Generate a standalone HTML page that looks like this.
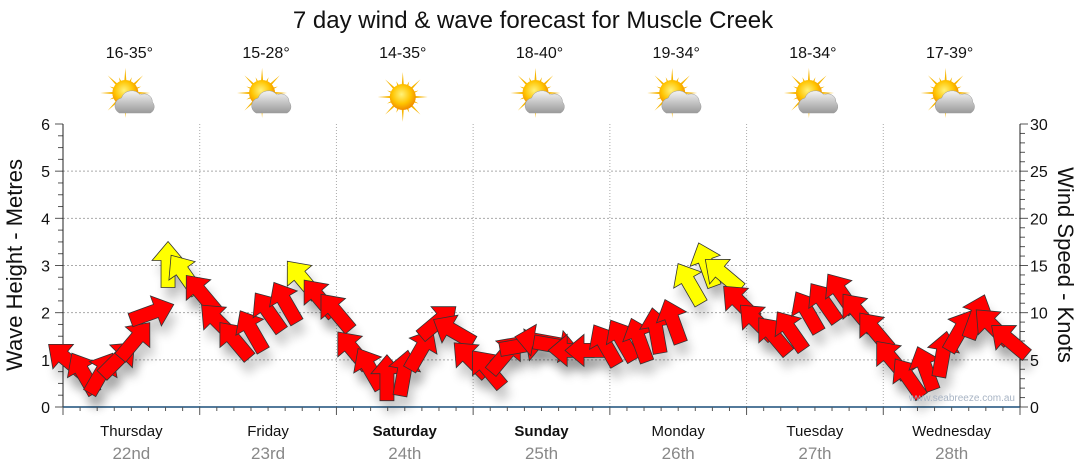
<!DOCTYPE html>
<html><head><meta charset="utf-8"><style>
body{margin:0;background:#fff;}
svg{display:block;font-family:"Liberation Sans","DejaVu Sans",sans-serif;}
</style></head><body>
<svg id="c" width="1080" height="475" viewBox="0 0 1080 475">
<defs>
<filter id="sh" x="-50%" y="-50%" width="200%" height="200%"><feGaussianBlur stdDeviation="5"/></filter>
<radialGradient id="sun" cx="0.45" cy="0.4" r="0.6"><stop offset="0" stop-color="#fff27a"/><stop offset="0.6" stop-color="#ffc400"/><stop offset="1" stop-color="#f08a00"/></radialGradient>
<linearGradient id="cl" x1="0" y1="0" x2="0" y2="1"><stop offset="0" stop-color="#f4f4f4"/><stop offset="1" stop-color="#9a9a9a"/></linearGradient>
</defs>
<text x="533" y="28" font-size="24" text-anchor="middle" fill="#111">7 day wind &amp; wave forecast for Muscle Creek</text>
<g id="grid"></g><g id="axes"></g><g id="top"></g><g id="shadows"></g><g id="arrows"></g>
<text x="1015" y="401" font-size="10" text-anchor="end" fill="#a8b4c4">www.seabreeze.com.au</text>
<text transform="translate(22,265) rotate(-90)" font-size="22" text-anchor="middle" fill="#111">Wave Height - Metres</text>
<text transform="translate(1058,265) rotate(90)" font-size="22" text-anchor="middle" fill="#111">Wind Speed - Knots</text>
</svg>
<script>
const days=["Thursday","Friday","Saturday","Sunday","Monday","Tuesday","Wednesday"];
const dates=["22nd","23rd","24th","25th","26th","27th","28th"];
const boldDays=[false,false,true,true,false,false,false];
const temps=["16-35°","15-28°","14-35°","18-40°","19-34°","18-34°","17-39°"];
const sunny=[false,false,true,false,false,false,false];
const leftTicks=[0,1,2,3,4,5,6];
const rightTicks=[0,5,10,15,20,25,30];
const windSpeed=[5,3.5,3.5,5,7,10,15,14, 12,9,7,8,10,11,13.5,11.5, 10,6,4,3,3.5,6,9,8, 5,4,5.5,6.5,7,6.5,6,6, 6.5,7,7,8,9,13,15,14, 11,9,7.5,8,10,11,12,10, 8,5,3,4,5.5,8,9.5,8.5,7];
const windDir=[-50,-30,30,45,40,70,0,-35, -40,-45,-40,-30,-35,-30,-40,-40, -40,-40,-30,0,10,30,50,-60, -45,-40,40,80,-80,100,-90,-90, -30,-30,-20,-10,-20,-30,-20,-50, -45,-45,-40,-35,-30,-35,-35,-40, -40,-40,-35,-20,10,30,20,-45,-50];
const X0=63,X1=1020,Y0=407,Y1=124;
const ns="http://www.w3.org/2000/svg";
function el(t,a,p){const e=document.createElementNS(ns,t);for(const k in a)e.setAttribute(k,a[k]);p.appendChild(e);return e;}
const dayW=(X1-X0)/7;
const xDay=d=>X0+dayW*d;
const xIdx=i=>X0+(i/(windSpeed.length-1))*(X1-X0-14)+4;
const yM=v=>Y0-(v/6)*(Y0-Y1);
const yK=v=>Y0-(v/30)*(Y0-Y1);
const grid=document.getElementById('grid'),axes=document.getElementById('axes'),top_=document.getElementById('top');
leftTicks.forEach(v=>{
 if(v>0&&v<6){const g=el('line',{x1:X0,x2:X1,y1:yM(v),y2:yM(v),stroke:'#aaa','stroke-dasharray':'2,2'},grid);
 
 }
 const t=el('text',{x:50,y:yM(v)+6,'font-size':16,'text-anchor':'end',fill:'#111'},axes);t.textContent=v;
 
 
});
rightTicks.forEach(v=>{
 const t=el('text',{x:1030,y:yK(v)+6,'font-size':16,fill:'#111'},axes);t.textContent=v;
 
 
});
for(let i=0;i<=24;i++){const y=Y0-i*(Y0-Y1)/24;el('line',{x1:X0-(i%4?5:8),x2:X0,y1:y,y2:y,stroke:'#555'},axes);}
for(let i=0;i<=30;i++){const y=yK(i);el('line',{x1:X1,x2:X1+(i%5?5:8),y1:y,y2:y,stroke:'#555'},axes);}
el('line',{x1:X0,x2:X0,y1:Y1,y2:Y0,stroke:'#222'},axes);
el('line',{x1:X1,x2:X1,y1:Y1,y2:Y0,stroke:'#222'},axes);
el('line',{x1:X0,x2:X1,y1:Y0,y2:Y0,stroke:'#1a4f7a','stroke-width':1.5},axes);
for(let i=0;i<=56;i++){const x=X0+i*dayW/8;el('line',{x1:x,x2:x,y1:Y0,y2:Y0+(i%8?4:8),stroke:'#555'},axes);}
days.forEach((d,i)=>{
 if(i>0){const g=el('line',{x1:xDay(i),x2:xDay(i),y1:Y1,y2:Y0,stroke:'#aaa','stroke-dasharray':'1,2'},grid);
 
 }
 const cx=xDay(i)+dayW/2;
 const t=el('text',{x:cx,y:436,'font-size':15,'text-anchor':'middle',fill:'#111','font-weight':boldDays[i]?'bold':'normal'},axes);t.textContent=d;
 
 
 const t2=el('text',{x:cx,y:459,'font-size':17,'text-anchor':'middle',fill:'#888'},axes);t2.textContent=dates[i];
 
 
 const t3=el('text',{x:cx-2,y:58,'font-size':16,'text-anchor':'middle',fill:'#111'},top_);t3.textContent=temps[i];
 
 
 const ic=el('g',{transform:`translate(${cx-2},97)`},top_);
 
 
 const sx=sunny[i]?0:-4, sy=sunny[i]?0:-4;
 for(let k=0;k<16;k++){const a=k*Math.PI/8,L=k%2?17:25;el('polygon',{points:`${sx+Math.cos(a-0.12)*10},${sy+Math.sin(a-0.12)*10} ${sx+Math.cos(a)*L},${sy+Math.sin(a)*L} ${sx+Math.cos(a+0.12)*10},${sy+Math.sin(a+0.12)*10}`,fill:'#f7b500'},ic);}
 el('circle',{cx:sx,cy:sy,r:13,fill:'url(#sun)'},ic);
 if(!sunny[i]){el('path',{d:'M-10,16 a8,8 0 0 1 2,-15 a11,11 0 0 1 19,-3 a8,8 0 0 1 12,7 a7,7 0 0 1 -2,11 z',fill:'url(#cl)',stroke:'#999','stroke-width':0.5},ic);}
});
const ar=document.getElementById('arrows'),sh=document.getElementById('shadows');
const shape="0,-24 -16,-5 -7,-5 -7,22 7,22 7,-5 16,-5";
windSpeed.forEach((v,i)=>{
 const x=xIdx(i),y=yK(v),r=windDir[i];
 const s=el('polygon',{points:shape,fill:'#000',opacity:0.2,filter:'url(#sh)',transform:`translate(${x+4},${y+12}) rotate(${r})`},sh);
 const a=el('polygon',{points:shape,fill:v>=12.5?'#ffff00':'#ff0000',stroke:'#333','stroke-width':0.8,'stroke-linejoin':'miter',transform:`translate(${x},${y}) rotate(${r})`},ar);
 
 
});
</script>
</body></html>
